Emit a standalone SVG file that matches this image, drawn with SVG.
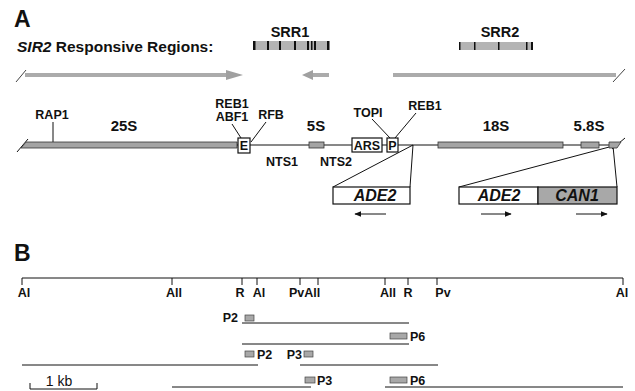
<svg xmlns="http://www.w3.org/2000/svg" width="635" height="391" viewBox="0 0 635 391">
<defs>
<style>
.t{font-family:"Liberation Sans",Arial,Helvetica,sans-serif;font-weight:bold;font-size:12.5px;fill:#111}
.m{text-anchor:middle}
.e{text-anchor:end}
.r{font-size:15px}
.h{font-size:23px}
.s{font-size:14.5px}
.g{font-size:16px}
.it{font-style:italic}
.bar{fill:#a4a4a4;stroke:#333;stroke-width:0.8}
.hatch{fill:#b4b4b4}
.blk{fill:#111}
.ln{stroke:#111;stroke-width:1;fill:none}
.box{fill:#fff;stroke:#111;stroke-width:1.2}
.gbox{fill:#a8a8a8;stroke:#111;stroke-width:1.2}
.pr{fill:#a8a8a8;stroke:#444;stroke-width:0.7}
.hl{stroke:#ababab;stroke-width:4;fill:none}
</style>
<marker id="ah" viewBox="0 0 10 10" refX="9" refY="5" markerWidth="7" markerHeight="7" orient="auto-start-reverse" markerUnits="userSpaceOnUse">
<path d="M0,1 L10,5 L0,9 z" fill="#111"/>
</marker>
</defs>
<rect width="635" height="391" fill="#fff"/>

<g id="partA">
<text class="t h" x="14" y="27">A</text>
<text class="t" x="17" y="52" style="font-size:15.5px"><tspan class="it">SIR2</tspan> Responsive Regions:</text>
</g>

<g id="SRR1">
<text class="t m s" x="290" y="37">SRR1</text>
<rect class="hatch" x="253" y="41" width="76" height="9"/>
<g class="blk">
<rect x="253" y="41" width="2.5" height="9"/><rect x="267" y="41" width="2" height="9"/><rect x="279" y="41" width="2" height="9"/><rect x="294" y="41" width="2" height="9"/><rect x="307" y="41" width="2" height="9"/><rect x="311" y="41" width="1.5" height="9"/><rect x="314" y="41" width="2" height="9"/><rect x="327" y="41" width="2.5" height="9"/>
</g>
</g>

<g id="SRR2">
<text class="t m s" x="500" y="37">SRR2</text>
<rect class="hatch" x="459" y="42" width="74" height="8"/>
<g class="blk">
<rect x="459" y="42" width="1.5" height="8"/><rect x="474" y="42" width="1.5" height="8"/><rect x="498" y="42" width="1.5" height="8"/><rect x="526" y="42" width="1.5" height="8"/><rect x="531" y="42" width="2" height="8"/>
</g>
</g>

<g id="transcripts">
<line class="hl" x1="25" y1="75" x2="228" y2="75"/>
<polygon points="226,70 243,75 226,80" fill="#a0a0a0"/>
<line x1="16" y1="82" x2="26" y2="70" stroke="#444" stroke-width="1"/>
<line class="hl" x1="311" y1="75" x2="329" y2="75"/>
<polygon points="313,70 302,75 313,80" fill="#a0a0a0"/>
<line class="hl" x1="393" y1="75" x2="616" y2="75"/>
<line x1="613" y1="82" x2="625" y2="69" stroke="#444" stroke-width="1"/>
</g>

<g id="connectors">
<line class="ln" x1="237" y1="145" x2="612" y2="145"/>
<line class="ln" x1="17" y1="152" x2="28" y2="139"/>
<line class="ln" x1="612" y1="149" x2="625" y2="138"/>
<line class="ln" x1="53" y1="122" x2="53" y2="142"/>
<line class="ln" x1="232" y1="124" x2="241" y2="138"/>
<line class="ln" x1="266" y1="122" x2="251" y2="142"/>
<line class="ln" x1="372" y1="119" x2="390" y2="138"/>
<line class="ln" x1="416" y1="113" x2="395" y2="138"/>
<line class="ln" x1="413" y1="145" x2="333" y2="187"/>
<line class="ln" x1="413" y1="145" x2="410" y2="187"/>
<line class="ln" x1="613" y1="146" x2="459" y2="187"/>
<line class="ln" x1="613" y1="146" x2="617" y2="187"/>
<line class="ln" x1="386" y1="214" x2="355" y2="214" marker-end="url(#ah)"/>
<line class="ln" x1="481" y1="214" x2="511" y2="214" marker-end="url(#ah)"/>
<line class="ln" x1="576" y1="214" x2="607" y2="214" marker-end="url(#ah)"/>
</g>

<g id="rRNA25S">
<polygon class="bar" points="21,148 26,142 237,142 237,148"/>
<text class="t m r" x="124" y="131">25S</text>
</g>
<g id="RAP1"><text class="t m" x="52" y="119">RAP1</text></g>
<g id="E">
<rect class="box" x="238" y="138" width="12" height="15"/>
<text class="t m" x="244" y="150">E</text>
<text class="t m" x="232" y="108">REB1</text>
<text class="t m" x="232" y="121">ABF1</text>
</g>
<g id="RFB"><text class="t m" x="271" y="119">RFB</text></g>
<g id="NTS1"><text class="t m" x="282" y="166">NTS1</text></g>
<g id="rRNA5S">
<rect class="bar" x="309" y="142" width="15" height="6"/>
<text class="t m r" x="316" y="131">5S</text>
</g>
<g id="NTS2"><text class="t m" x="336" y="166">NTS2</text></g>
<g id="ARS">
<rect class="box" x="352" y="138" width="30" height="14"/>
<text class="t m" x="367" y="150">ARS</text>
</g>
<g id="P">
<rect class="box" x="387" y="138" width="11" height="14"/>
<text class="t m" x="392.5" y="150">P</text>
<text class="t m" x="368" y="117">TOPI</text>
<text class="t m" x="425" y="110">REB1</text>
</g>
<g id="rRNA18S">
<rect class="bar" x="438" y="142" width="125" height="6"/>
<text class="t m r" x="496" y="131">18S</text>
</g>
<g id="rRNA58S">
<rect class="bar" x="581" y="142" width="18" height="6"/>
<text class="t m r" x="589" y="131">5.8S</text>
<polygon class="bar" points="609,142 621,142 617,148 609,148"/>
</g>
<g id="ADE2left">
<rect class="box" x="333" y="187" width="77" height="17"/>
<text class="t m it g" x="375" y="201">ADE2</text>
</g>
<g id="ADE2right">
<rect class="box" x="459" y="187" width="79" height="17"/>
<text class="t m it g" x="499" y="201">ADE2</text>
</g>
<g id="CAN1">
<rect class="gbox" x="538" y="187" width="79" height="17"/>
<text class="t m it g" x="577" y="201">CAN1</text>
</g>

<g id="partB">
<text class="t h" x="14" y="261">B</text>
<line class="ln" x1="22" y1="278" x2="623" y2="278"/>
<path class="ln" d="M22,278V285M172,278V285M242,278V285M257,278V285M300,278V285M318,278V285M385,278V285M408,278V285M437,278V285M623,278V285"/>
<text class="t m" x="24" y="297">Al</text>
<text class="t m" x="174" y="297">All</text>
<text class="t m" x="240" y="297">R</text>
<text class="t m" x="259" y="297">Al</text>
<text class="t" x="289" y="297">PvAll</text>
<text class="t m" x="388" y="297">All</text>
<text class="t m" x="408" y="297">R</text>
<text class="t m" x="443" y="297">Pv</text>
<text class="t m" x="622" y="297">Al</text>
</g>

<g id="fragments">
<line class="ln" x1="242" y1="323" x2="409" y2="323"/>
<line class="ln" x1="242" y1="344" x2="409" y2="344"/>
<line class="ln" x1="22" y1="365" x2="258" y2="365"/>
<line class="ln" x1="300" y1="365" x2="438" y2="365"/>
<line class="ln" x1="172" y1="387" x2="311" y2="387"/>
<line class="ln" x1="385" y1="387" x2="623" y2="387"/>
</g>

<g id="probeP2a">
<text class="t e" x="238" y="322">P2</text>
<rect class="pr" x="245" y="315" width="9" height="6"/>
</g>
<g id="probeP6a">
<rect class="pr" x="390" y="333" width="17" height="6"/>
<text class="t" x="410" y="341">P6</text>
</g>
<g id="probeP2b">
<rect class="pr" x="245" y="351" width="9" height="6"/>
<text class="t" x="257" y="359">P2</text>
</g>
<g id="probeP3a">
<text class="t e" x="302" y="359">P3</text>
<rect class="pr" x="304" y="351" width="9" height="6"/>
</g>
<g id="probeP3b">
<rect class="pr" x="305" y="377" width="10" height="6"/>
<text class="t" x="317" y="385">P3</text>
</g>
<g id="probeP6b">
<rect class="pr" x="390" y="377" width="17" height="6"/>
<text class="t" x="410" y="385">P6</text>
</g>

<g id="scale">
<path class="ln" d="M30,383V389H97V383"/>
<text x="59" y="386" text-anchor="middle" font-family="Liberation Sans, Arial, sans-serif" font-size="14" fill="#111">1 kb</text>
</g>
</svg>
